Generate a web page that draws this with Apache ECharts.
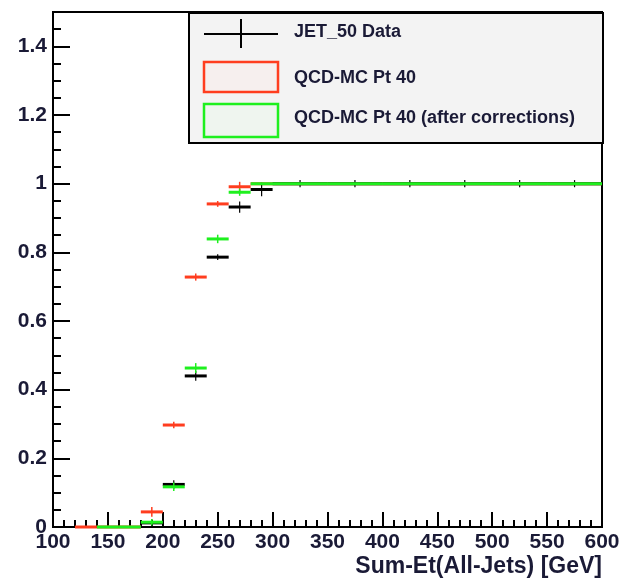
<!DOCTYPE html>
<html>
<head>
<meta charset="utf-8">
<script src="https://cdn.jsdelivr.net/npm/echarts@6/dist/echarts.min.js"></script>
<style>
html, body { margin: 0; padding: 0; background: #fff; }
#chart { width: 622px; height: 581px; }
</style>
</head>
<body>
<div id="chart"></div>
<script>
// trigger efficiency vs Sum-Et, bin edges in GeV
var dataLo  = [180, 200, 220, 240, 260, 280, 300, 350, 400, 450, 500, 550];
var dataHi  = [200, 220, 240, 260, 280, 300, 350, 400, 450, 500, 550, 600];
var dataEff = [0.012, 0.124, 0.440, 0.786, 0.932, 0.983, 1, 1, 1, 1, 1, 1];
var dataErr = [0.006, 0.008, 0.010, 0.004, 0.012, 0.015, 0.006, 0.006, 0.006, 0.006, 0.006, 0.006];

var mcLo  = [120, 140, 160, 180, 200, 220, 240, 260, 280];
var mcHi  = [140, 160, 180, 200, 220, 240, 260, 280, 600];
var mcEff = [0, 0, 0, 0.044, 0.297, 0.728, 0.941, 0.991, 1];
var mcErr = [0, 0, 0, 0.010, 0.005, 0.006, 0.004, 0.010, 0];

var corrLo  = [140, 160, 180, 200, 220, 240, 260, 280];
var corrHi  = [160, 180, 200, 220, 240, 260, 280, 600];
var corrEff = [0, 0, 0.014, 0.117, 0.463, 0.839, 0.975, 1];
var corrErr = [0, 0, 0.005, 0.008, 0.010, 0.008, 0.006, 0];

var xTicks = [100, 600, 50];     // min, max, step
var yTicks = [0, 1.5, 0.2];

var legendNames = ['JET_50 Data', 'QCD-MC Pt 40', 'QCD-MC Pt 40 (after corrections)'];

var RED = '#ff3d1f', GREEN = '#1ef01e', BLACK = '#000000';
var FONT = '"Liberation Sans", Arial, sans-serif';
var TXT = '#1a1a36';

function bins(lo, hi, eff, err) {
    var out = [];
    for (var i = 0; i < lo.length; i++) {
        out.push([lo[i], hi[i], eff[i], err[i]]);
    }
    return out;
}

// horizontal bin line + vertical error bar at bin centre
function binRenderer(color, width, errWidth) {
    return function (params, api) {
        var x0 = api.value(0), x1 = api.value(1), y = api.value(2), e = api.value(3);
        var a = api.coord([x0, y]);
        var b = api.coord([x1, y]);
        var children = [{
            type: 'line',
            shape: {x1: a[0], y1: a[1], x2: b[0], y2: b[1]},
            style: {stroke: color, lineWidth: width}
        }];
        if (e > 0) {
            var c1 = api.coord([(x0 + x1) / 2, y - e]);
            var c2 = api.coord([(x0 + x1) / 2, y + e]);
            children.push({
                type: 'line',
                shape: {x1: c1[0], y1: c1[1] + 1.5, x2: c2[0], y2: c2[1] - 1.5},
                style: {stroke: color, lineWidth: errWidth}
            });
        }
        return {type: 'group', children: children};
    };
}

var chart = echarts.init(document.getElementById('chart'));
var option = {
    animation: false,
    backgroundColor: '#ffffff',
    grid: {
        left: 53, right: 20, top: 12, bottom: 54,
        containLabel: false, outerBoundsMode: 'none',
        show: true, borderColor: '#000', borderWidth: 2
    },
    xAxis: {
        type: 'value',
        min: xTicks[0], max: xTicks[1], interval: xTicks[2],
        name: 'Sum-Et(All-Jets) [GeV]',
        nameLocation: 'end',
        nameGap: 0,
        nameMoveOverlap: false,
        nameTextStyle: {
            fontFamily: FONT, fontWeight: 'bold', fontSize: 23, color: TXT,
            align: 'right', verticalAlign: 'top', padding: [28, 0, 0, 0]
        },
        axisLine: {show: true, lineStyle: {color: '#000', width: 2}},
        axisTick: {show: true, inside: true, length: 15, lineStyle: {color: '#000', width: 2}},
        minorTick: {show: true, splitNumber: 5, length: 7, lineStyle: {color: '#000', width: 2}},
        splitLine: {show: false},
        axisLabel: {
            fontFamily: FONT, fontWeight: 'bold', fontSize: 21, color: TXT, margin: 5
        }
    },
    yAxis: {
        type: 'value',
        min: yTicks[0], max: yTicks[1], interval: yTicks[2],
        axisLine: {show: true, lineStyle: {color: '#000', width: 2}},
        axisTick: {show: true, inside: true, length: 17, lineStyle: {color: '#000', width: 2}},
        minorTick: {show: true, splitNumber: 4, length: 8, lineStyle: {color: '#000', width: 2}},
        splitLine: {show: false},
        axisLabel: {
            fontFamily: FONT, fontWeight: 'bold', fontSize: 21, color: TXT, margin: 6,
            showMaxLabel: false
        }
    },
    series: [
        {
            name: legendNames[1], type: 'custom', z: 2,
            renderItem: binRenderer(RED, 3, 1.5),
            encode: {x: [0, 1], y: 2},
            data: bins(mcLo, mcHi, mcEff, mcErr)
        },
        {
            name: legendNames[0], type: 'custom', z: 3,
            renderItem: binRenderer(BLACK, 3, 1.2),
            encode: {x: [0, 1], y: 2},
            data: bins(dataLo, dataHi, dataEff, dataErr)
        },
        {
            name: legendNames[2], type: 'custom', z: 4,
            renderItem: binRenderer(GREEN, 3, 1.5),
            encode: {x: [0, 1], y: 2},
            data: bins(corrLo, corrHi, corrEff, corrErr)
        }
    ],
    graphic: [
        {
            type: 'group', left: 188, top: 12, z: 100,
            children: [
                {type: 'rect', shape: {x: 0, y: 0, width: 414, height: 130},
                    style: {fill: '#f3f3f3', stroke: '#000', lineWidth: 2}},
                {type: 'line', shape: {x1: 15, y1: 21, x2: 89, y2: 21}, style: {stroke: '#000', lineWidth: 2}},
                {type: 'line', shape: {x1: 52, y1: 6, x2: 52, y2: 35}, style: {stroke: '#000', lineWidth: 2}},
                {type: 'rect', shape: {x: 15, y: 49, width: 74, height: 30},
                    style: {fill: '#f6efee', stroke: RED, lineWidth: 2.5}},
                {type: 'rect', shape: {x: 15, y: 91, width: 74, height: 33},
                    style: {fill: '#eff5ef', stroke: GREEN, lineWidth: 2.5}},
                {type: 'text', x: 105, y: 19, style: {text: legendNames[0], fill: TXT,
                    font: 'bold 18px ' + FONT, verticalAlign: 'middle'}},
                {type: 'text', x: 105, y: 65, style: {text: legendNames[1], fill: TXT,
                    font: 'bold 18px ' + FONT, verticalAlign: 'middle'}},
                {type: 'text', x: 105, y: 105, style: {text: legendNames[2], fill: TXT,
                    font: 'bold 18px ' + FONT, verticalAlign: 'middle'}}
            ]
        }
    ]
};
chart.setOption(option);
</script>
</body>
</html>
